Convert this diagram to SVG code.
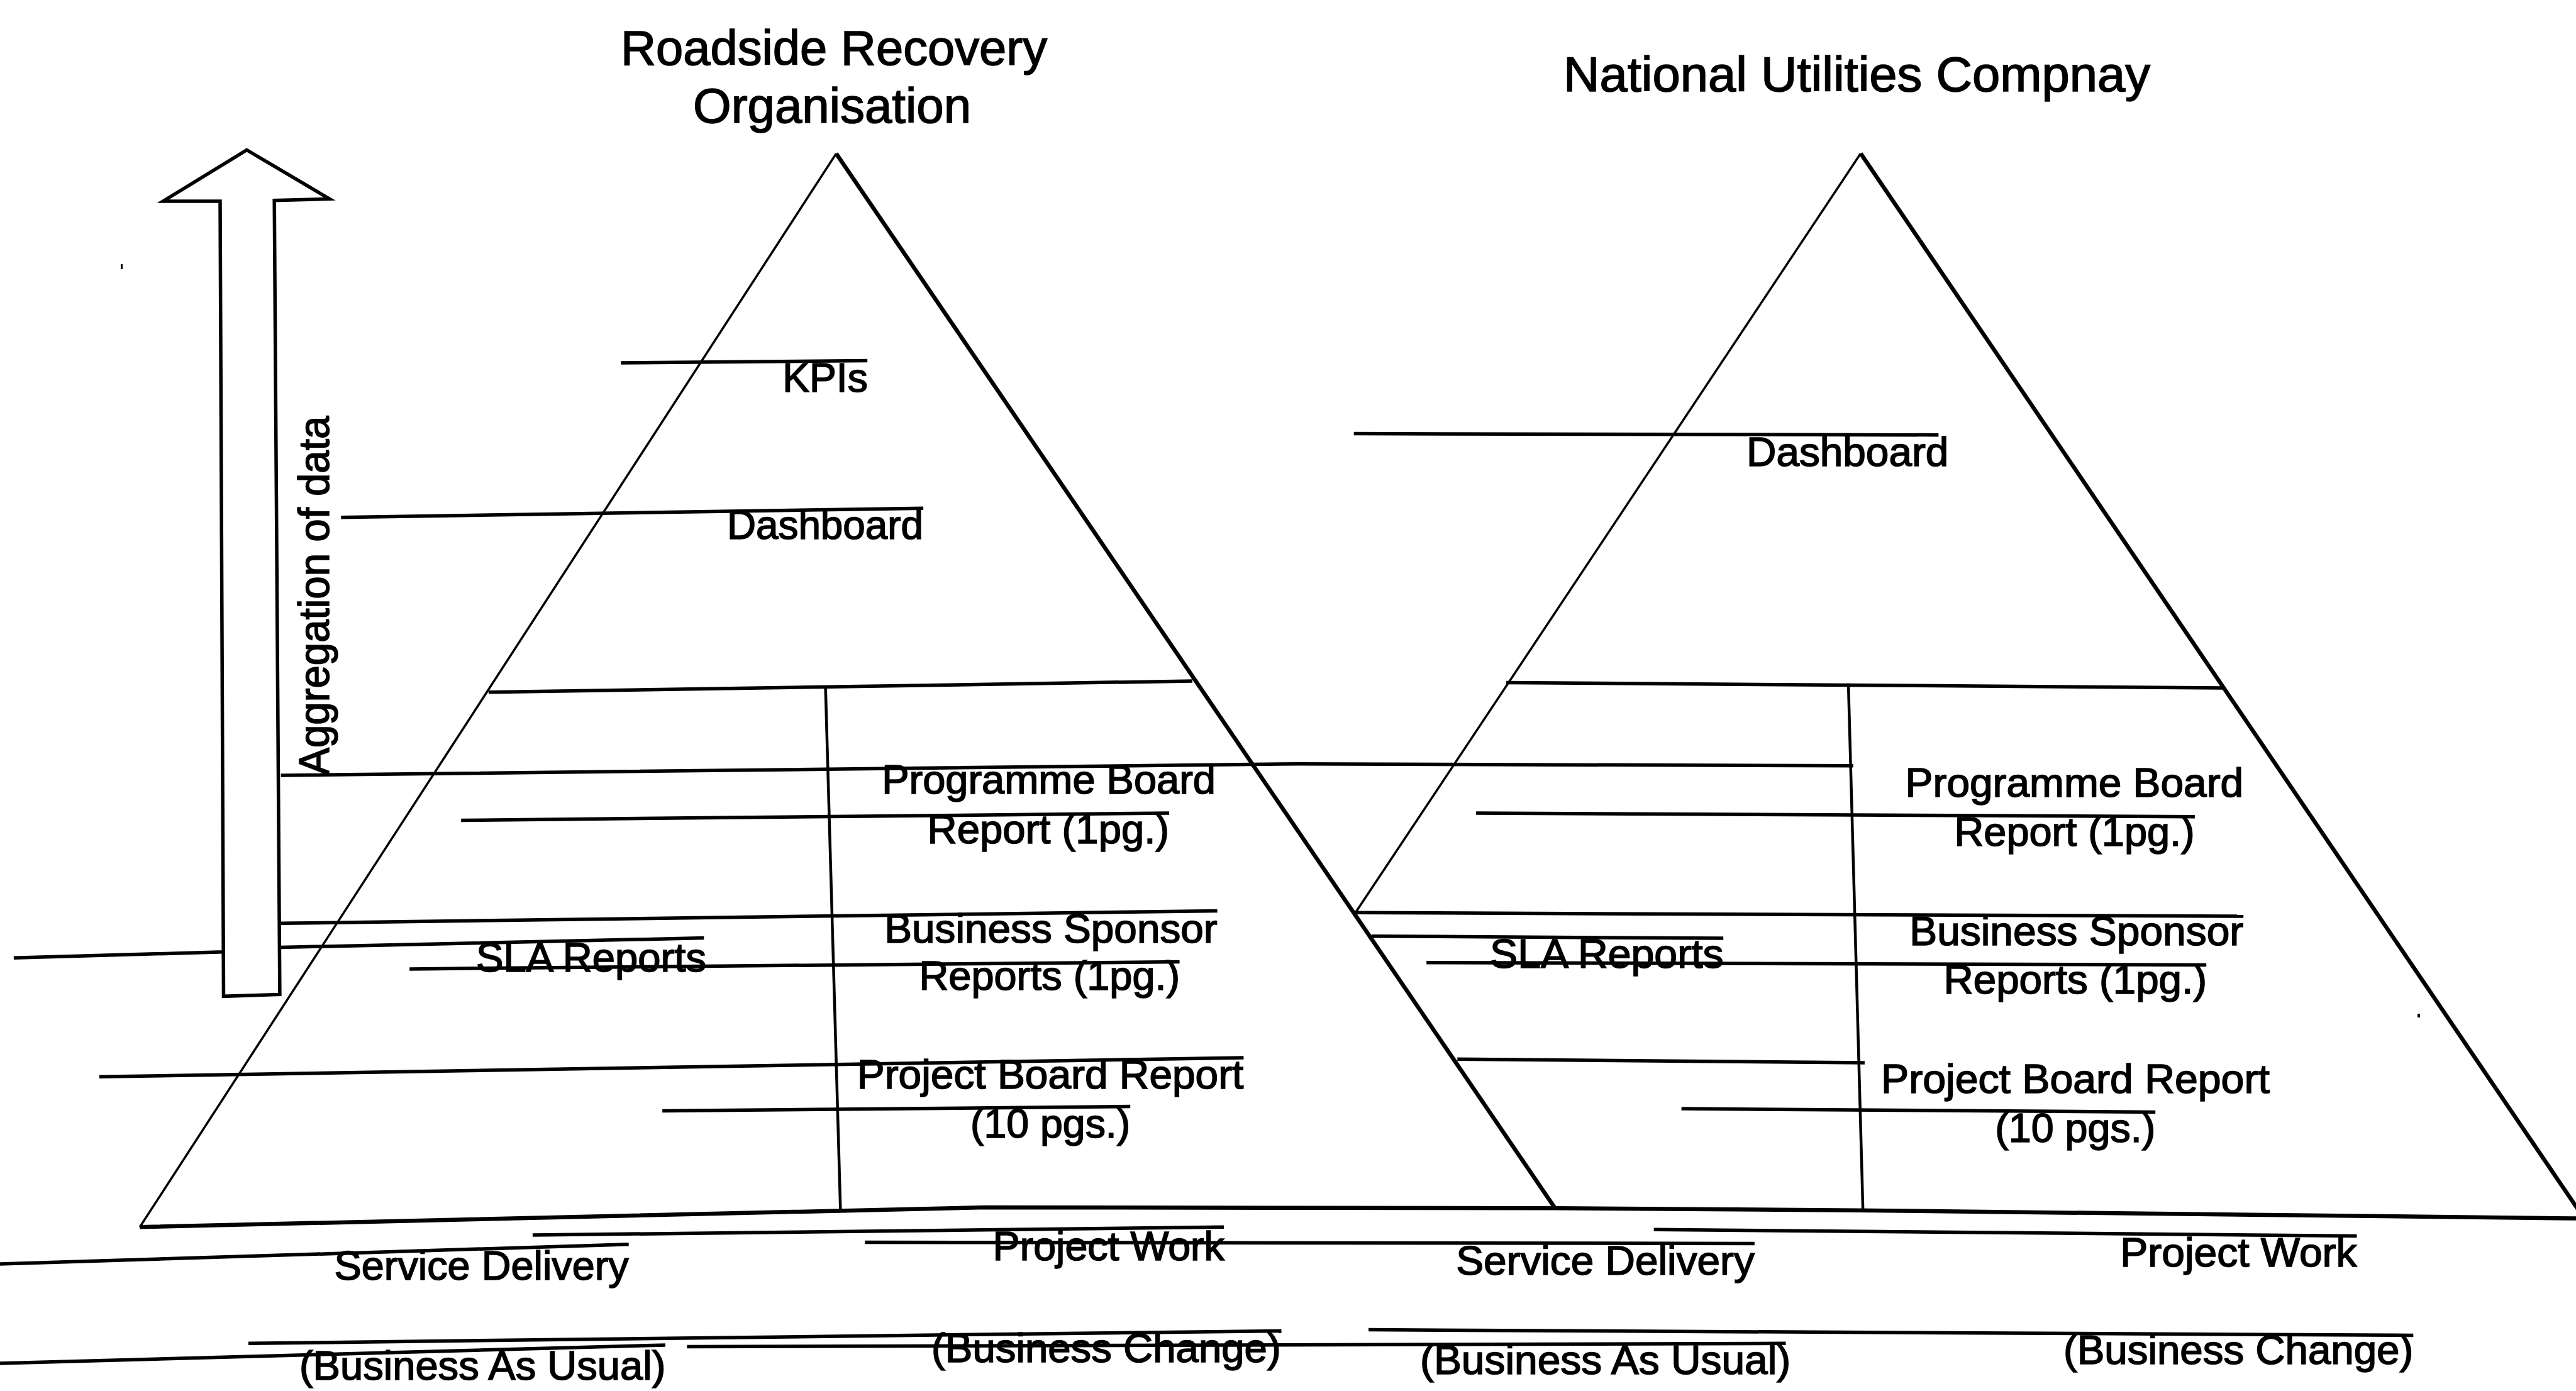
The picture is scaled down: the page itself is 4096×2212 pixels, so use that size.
<svg xmlns="http://www.w3.org/2000/svg" width="4096" height="2212" viewBox="0 0 4096 2212">
  <style>
    .ln { fill: none; stroke: #000; stroke-width: 5.5; stroke-linecap: butt; }
    .thin { fill: none; stroke: #000; stroke-width: 3.5; }
    .thick { fill: none; stroke: #000; stroke-width: 6.5; }
    .div { fill: none; stroke: #000; stroke-width: 4.5; }
    .title { font-family: "Liberation Sans", Arial, sans-serif; font-size: 78px; fill: #000; stroke: #000; stroke-width: 1.6; }
    .lbl { font-family: "Liberation Sans", Arial, sans-serif; font-size: 64px; fill: #000; stroke: #000; stroke-width: 1.6; }
  </style>
  <rect x="0" y="0" width="4096" height="2212" fill="#fff"/>

  <!-- headings -->
  <g id="title-roadside">
    <text class="title" x="987" y="103" textLength="678" lengthAdjust="spacingAndGlyphs">Roadside Recovery</text>
    <text class="title" x="1102" y="195" textLength="442" lengthAdjust="spacingAndGlyphs">Organisation</text>
  </g>
  <g id="title-utilities">
    <text class="title" x="2486" y="145" textLength="933" lengthAdjust="spacingAndGlyphs">National Utilities Compnay</text>
  </g>

  <!-- pyramid outlines -->
  <g id="pyramid-utilities">
    <line class="thin" x1="2958.6" y1="244" x2="2155.3" y2="1451.3"/>
    <line class="thick" x1="2958.6" y1="244" x2="4114.7" y2="1946.1"/>
    <line class="ln" x1="2395.1" y1="1085.4" x2="3534.9" y2="1094"/>
    <line class="div" x1="2939" y1="1086.7" x2="2962.2" y2="1924.7"/>
    <polyline class="thick" points="2472.7,1921.3 2953.4,1924.7 4096,1937.5"/>
  </g>
  <g id="pyramid-roadside">
    <line class="thin" x1="1329.6" y1="244.2" x2="222.3" y2="1951.3"/>
    <line class="thick" x1="1329.6" y1="244.2" x2="2472.7" y2="1921.3"/>
    <line class="ln" x1="776.9" y1="1100.8" x2="1895.9" y2="1083"/>
    <line class="div" x1="1312.6" y1="1091.9" x2="1336.4" y2="1925.2"/>
    <polyline class="thick" points="222.3,1951.3 1567,1920 2472.7,1921.3"/>
  </g>

  <!-- leader lines -->
  <g id="connectors">
    <line class="ln" x1="987.4" y1="577" x2="1379.2" y2="573.4"/>
    <line class="ln" x1="542.3" y1="822.8" x2="1468.1" y2="808.2"/>
    <line class="ln" x1="2152.7" y1="689.6" x2="3082.4" y2="691.7"/>
    <polyline class="ln" points="446.7,1233 2063.6,1214.7 2946.6,1217.8"/>
    <line class="ln" x1="733.2" y1="1304.5" x2="1859.1" y2="1293"/>
    <line class="ln" x1="2347.1" y1="1293" x2="3489.9" y2="1298.8"/>
    <line class="ln" x1="446.4" y1="1468.3" x2="1935.6" y2="1448.5"/>
    <line class="ln" x1="2155.3" y1="1451.3" x2="3567.2" y2="1457.1"/>
    <polyline class="ln" points="21.9,1523.2 355.3,1513.8 446.4,1506.5 1119.3,1491.6"/>
    <line class="ln" x1="2181.2" y1="1488.7" x2="2740.2" y2="1492.1"/>
    <line class="ln" x1="651.2" y1="1540.9" x2="1875.6" y2="1529.5"/>
    <line class="ln" x1="2268.2" y1="1530.8" x2="3508.2" y2="1534.4"/>
    <line class="ln" x1="158" y1="1712.3" x2="1977.4" y2="1682"/>
    <line class="ln" x1="2317.3" y1="1684.3" x2="2964.9" y2="1690.1"/>
    <line class="ln" x1="1053.2" y1="1766.6" x2="1797.2" y2="1759.6"/>
    <line class="ln" x1="2673.6" y1="1763" x2="3427.2" y2="1768.5"/>
    <line class="ln" x1="0" y1="2010.1" x2="999.7" y2="1978.7"/>
    <line class="ln" x1="846.9" y1="1964.1" x2="1946.1" y2="1951.3"/>
    <line class="ln" x1="1375.3" y1="1975.6" x2="2789.8" y2="1977.4"/>
    <line class="ln" x1="2629.7" y1="1955.2" x2="3747.5" y2="1965.4"/>
    <line class="ln" x1="0" y1="2168.1" x2="1057.9" y2="2138.9"/>
    <line class="ln" x1="395" y1="2136.3" x2="2037.5" y2="2116.4"/>
    <line class="ln" x1="1092.4" y1="2141.5" x2="2839.5" y2="2136.3"/>
    <line class="ln" x1="2176" y1="2114.6" x2="3837.3" y2="2123.4"/>
  </g>

  <!-- upward arrow -->
  <g id="aggregation-arrow">
    <polygon points="392.4,238.5 524,316.3 436.2,318.7 444.9,1581.4 355.5,1584.3 350,320 259.4,320" fill="#fff" stroke="#000" stroke-width="5.5" stroke-linejoin="miter"/>
    <text class="lbl" style="font-size:68px" transform="translate(522.5 1232.7) rotate(-90)" textLength="571" lengthAdjust="spacingAndGlyphs">Aggregation of data</text>
  </g>

  <!-- labels, Roadside Recovery Organisation -->
  <g id="label-kpis"><text class="lbl" x="1244.2" y="623" textLength="135.6" lengthAdjust="spacingAndGlyphs">KPIs</text></g>
  <g id="label-dashboard-1"><text class="lbl" x="1155.9" y="856.5" textLength="312.2" lengthAdjust="spacingAndGlyphs">Dashboard</text></g>
  <g id="label-programme-board-1">
    <text class="lbl" x="1402.2" y="1262.2" textLength="530.8" lengthAdjust="spacingAndGlyphs">Programme Board</text>
    <text class="lbl" x="1474.6" y="1341.1" textLength="384.5" lengthAdjust="spacingAndGlyphs">Report (1pg.)</text>
  </g>
  <g id="label-business-sponsor-1">
    <text class="lbl" x="1406.2" y="1499.4" textLength="529.5" lengthAdjust="spacingAndGlyphs">Business Sponsor</text>
    <text class="lbl" x="1461.5" y="1574.4" textLength="414.6" lengthAdjust="spacingAndGlyphs">Reports (1pg.)</text>
  </g>
  <g id="label-sla-1"><text class="lbl" x="757" y="1544.8" textLength="366" lengthAdjust="spacingAndGlyphs">SLA Reports</text></g>
  <g id="label-project-board-1">
    <text class="lbl" x="1362.8" y="1731.4" textLength="614.6" lengthAdjust="spacingAndGlyphs">Project Board Report</text>
    <text class="lbl" x="1543" y="1808.7" textLength="254.2" lengthAdjust="spacingAndGlyphs">(10 pgs.)</text>
  </g>
  <g id="label-service-delivery-1">
    <text class="lbl" x="531.6" y="2034.9" textLength="468.1" lengthAdjust="spacingAndGlyphs">Service Delivery</text>
    <text class="lbl" x="475.9" y="2193.5" textLength="582.5" lengthAdjust="spacingAndGlyphs">(Business As Usual)</text>
  </g>
  <g id="label-project-work-1">
    <text class="lbl" x="1578.6" y="2003.6" textLength="368.3" lengthAdjust="spacingAndGlyphs">Project Work</text>
    <text class="lbl" x="1481.1" y="2165.6" textLength="555.6" lengthAdjust="spacingAndGlyphs">(Business Change)</text>
  </g>

  <!-- labels, National Utilities Compnay -->
  <g id="label-dashboard-2"><text class="lbl" x="2777" y="741.1" textLength="321.3" lengthAdjust="spacingAndGlyphs">Dashboard</text></g>
  <g id="label-programme-board-2">
    <text class="lbl" x="3029.6" y="1267.2" textLength="537.6" lengthAdjust="spacingAndGlyphs">Programme Board</text>
    <text class="lbl" x="3107.5" y="1344.5" textLength="382.2" lengthAdjust="spacingAndGlyphs">Report (1pg.)</text>
  </g>
  <g id="label-business-sponsor-2">
    <text class="lbl" x="3036.2" y="1502.8" textLength="531.1" lengthAdjust="spacingAndGlyphs">Business Sponsor</text>
    <text class="lbl" x="3090.5" y="1580.1" textLength="418.5" lengthAdjust="spacingAndGlyphs">Reports (1pg.)</text>
  </g>
  <g id="label-sla-2"><text class="lbl" x="2369" y="1539.4" textLength="371.7" lengthAdjust="spacingAndGlyphs">SLA Reports</text></g>
  <g id="label-project-board-2">
    <text class="lbl" x="2991" y="1738.4" textLength="617.8" lengthAdjust="spacingAndGlyphs">Project Board Report</text>
    <text class="lbl" x="3172.2" y="1815.5" textLength="255" lengthAdjust="spacingAndGlyphs">(10 pgs.)</text>
  </g>
  <g id="label-service-delivery-2">
    <text class="lbl" x="2315.2" y="2026.5" textLength="474.6" lengthAdjust="spacingAndGlyphs">Service Delivery</text>
    <text class="lbl" x="2258" y="2184.6" textLength="589.3" lengthAdjust="spacingAndGlyphs">(Business As Usual)</text>
  </g>
  <g id="label-project-work-2">
    <text class="lbl" x="3371.3" y="2014" textLength="376.2" lengthAdjust="spacingAndGlyphs">Project Work</text>
    <text class="lbl" x="3280.9" y="2169.4" textLength="556.4" lengthAdjust="spacingAndGlyphs">(Business Change)</text>
  </g>

  <!-- stray marks -->
  <rect x="192" y="420" width="3" height="8" fill="#000"/>
  <rect x="3844" y="1612" width="4" height="6" fill="#000"/>
</svg>
